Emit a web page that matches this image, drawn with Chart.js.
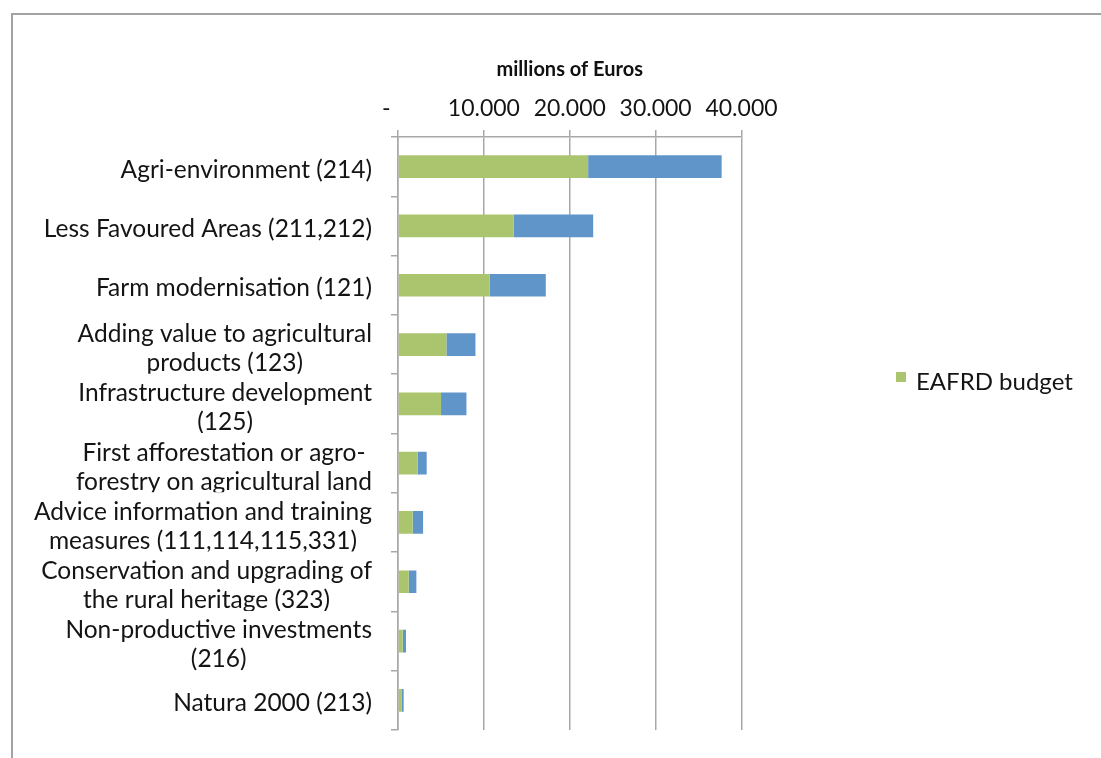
<!DOCTYPE html>
<html>
<head>
<meta charset="utf-8">
<script src="https://cdn.jsdelivr.net/npm/chart.js@4.4.1/dist/chart.umd.min.js"></script>
<style>
  html, body { margin: 0; padding: 0; background: #fff; }
  #wrap { position: relative; width: 1101px; height: 758px; overflow: hidden; }
  #frame { position: absolute; left: 11px; top: 13px; width: 1200px; height: 900px;
           border-top: 2px solid #a3a3a3; border-left: 2px solid #a3a3a3; }
  canvas { position: absolute; left: 0; top: 0; }
</style>
</head>
<body>
<div id="wrap">
  <div id="frame"></div>
  <canvas id="c" width="1101" height="758"></canvas>
</div>
<script>
// Rural development measures, each label split into its display lines
const categories = [
  ['Agri-environment (214)'],
  ['Less Favoured Areas (211,212)'],
  ['Farm modernisation (121)'],
  ['Adding value to agricultural', 'products (123)'],
  ['Infrastructure development', '(125)'],
  ['First afforestation or agro-', 'forestry on agricultural land'],
  ['Advice information and training', 'measures (111,114,115,331)'],
  ['Conservation and upgrading of', 'the rural heritage (323)'],
  ['Non-productive investments', '(216)'],
  ['Natura 2000 (213)']
];

// millions of euros
const eafrdBudget = [22140, 13480, 10690, 5640, 5010, 2300, 1710, 1250, 550, 400];
const nationalCofinancing = [15550, 9250, 6520, 3380, 2960, 1040, 1210, 890, 380, 260];

const axisTicks = [0, 10000, 20000, 30000, 40000];
const axisTitle = 'millions of Euros';
const legendLabel = 'EAFRD budget';

const FONT = 'Lato';
const GRID = '#a8a8a8';
const TEXT = '#141414';
const GREEN = '#abc56f';
const BLUE = '#6095ca';

function fmtThousands(v) {
  if (v === 0) return '-    ';
  return String(v).replace(/\B(?=(\d{3})+(?!\d))/g, '.');
}

// Category labels: block right-aligned next to the axis, lines centred within the block,
// each label clipped to its own category band
const categoryLabels = {
  id: 'categoryLabels',
  afterDraw(chart) {
    const s = chart.scales.y;
    const ctx = chart.ctx;
    const band = (s.bottom - s.top) / categories.length;
    const right = chart.chartArea.left - 26;
    ctx.save();
    ctx.font = '24.5px ' + FONT;
    ctx.fillStyle = TEXT;
    ctx.textAlign = 'center';
    ctx.textBaseline = 'middle';
    categories.forEach((lines, i) => {
      const cy = s.getPixelForValue(i);
      const w = Math.max(...lines.map(l => ctx.measureText(l).width));
      const cx = right - w / 2;
      ctx.save();
      ctx.beginPath();
      ctx.rect(0, cy - band / 2, chart.chartArea.left - 8, band - 0.5);
      ctx.clip();
      lines.forEach((l, j) => {
        ctx.fillText(l, cx, cy + (j - (lines.length - 1) / 2) * 29 + (lines.length > 1 ? 4 : 3));
      });
      ctx.restore();
    });
    ctx.restore();
  }
};

// Single-entry legend to the right of the plot
const sideLegend = {
  id: 'sideLegend',
  afterDraw(chart) {
    const ctx = chart.ctx;
    const ds = chart.data.datasets[0];
    const x = chart.chartArea.right + 154.5;
    ctx.save();
    ctx.fillStyle = ds.backgroundColor;
    ctx.fillRect(x, 372, 10, 10);
    ctx.font = '24px ' + FONT;
    ctx.fillStyle = TEXT;
    ctx.textAlign = 'left';
    ctx.textBaseline = 'alphabetic';
    ctx.fillText(ds.label, x + 20, 390);
    ctx.restore();
  }
};

new Chart(document.getElementById('c'), {
  type: 'bar',
  data: {
    labels: categories.map(l => l.join(' ')),
    datasets: [
      { label: legendLabel, data: eafrdBudget, backgroundColor: GREEN, borderWidth: 0,
        barPercentage: 0.383, categoryPercentage: 1 },
      { label: 'National co-financing', data: nationalCofinancing, backgroundColor: BLUE, borderWidth: 0,
        barPercentage: 0.383, categoryPercentage: 1 }
    ]
  },
  options: {
    indexAxis: 'y',
    responsive: false,
    animation: false,
    devicePixelRatio: 1,
    layout: { padding: { left: 0, top: 24, right: 1101 - 741.5, bottom: 28 } },
    scales: {
      x: {
        position: 'top',
        stacked: true,
        min: 0,
        max: 40000,
        afterBuildTicks(scale) { scale.ticks = axisTicks.map(v => ({ value: v })); },
        afterFit(scale) { scale.height = 113; },
        ticks: {
          callback: v => fmtThousands(v),
          font: { family: FONT, size: 23 },
          color: TEXT,
          padding: 8,
          maxRotation: 0
        },
        grid: { color: GRID, lineWidth: 1.5, tickLength: 7, tickColor: GRID },
        border: { display: true, color: GRID, width: 1.5 },
        title: {
          display: true,
          text: axisTitle,
          font: { family: FONT, size: 20, weight: 'bold' },
          color: '#111',
          padding: { top: 34, bottom: 0 }
        }
      },
      y: {
        stacked: true,
        afterFit(scale) { scale.width = 398; },
        ticks: { display: false },
        grid: { drawOnChartArea: false, drawTicks: true, tickLength: 7, color: GRID, lineWidth: 1.5, offset: true },
        border: { display: true, color: GRID, width: 1.5 }
      }
    },
    plugins: {
      legend: { display: false },
      tooltip: { enabled: false }
    }
  },
  plugins: [categoryLabels, sideLegend]
});
</script>
</body>
</html>
